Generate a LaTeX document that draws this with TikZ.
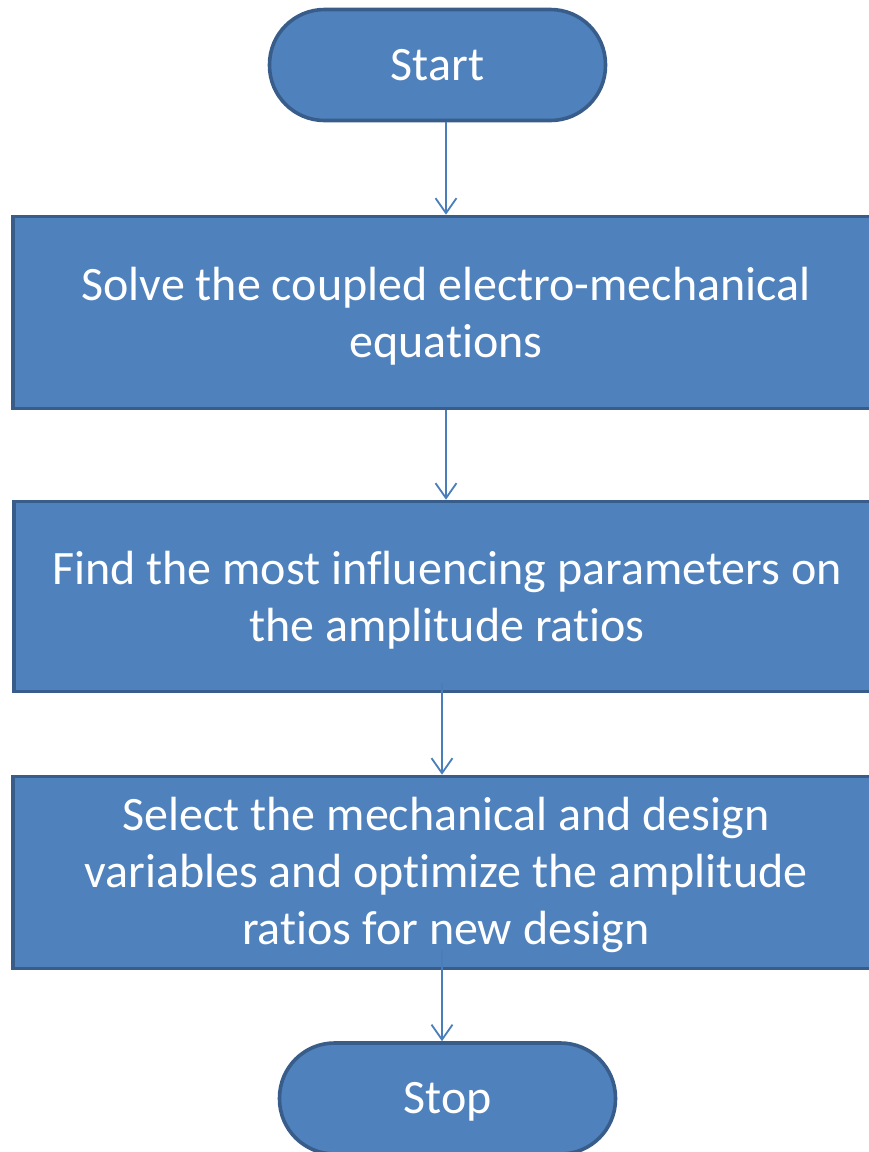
\documentclass[tikz,border=0pt]{standalone}
\usepackage{fontspec}
\setmainfont{Carlito}[Ligatures={NoCommon,NoContextual,NoRequired}]
\usetikzlibrary{arrows.meta}
\definecolor{boxfill}{HTML}{4F81BD}
\definecolor{boxline}{HTML}{385D8A}
\definecolor{arrowcol}{HTML}{4A7EBB}
\newcommand{\lowtxt}[2]{\raisebox{-#1}[\height][\depth]{\begin{tabular}{@{}c@{}}#2\end{tabular}}}
\begin{document}
\begin{tikzpicture}[x=1pt,y=-1pt,
  terminal/.style={draw=boxline, fill=boxfill, line width=3.6pt, rounded corners=55pt,
    minimum width=336pt, minimum height=111pt, inner sep=0pt, text=white,
    font=\fontsize{48}{57}\selectfont},
  process/.style={draw=boxline, fill=boxfill, line width=3.6pt, minimum width=866pt,
    minimum height=192pt, inner sep=0pt, text=white, align=center,
    font=\fontsize{48}{57}\selectfont},
  arr/.style={draw=arrowcol, line width=1.8pt,
    -{Straight Barb[length=15pt,width=21pt,line width=1.8pt]}}]
\useasboundingbox (0,0) rectangle (869,1152);
\node[terminal] (start) at (437.5,65) {\lowtxt{4pt}{Start}};
\node[process] (box1) at (446,312.5) {\lowtxt{5pt}{Solve the coupled electro-mechanical\\equations}};
\node[process, minimum height=190pt] (box2) at (447,596.5) {\lowtxt{5pt}{Find the most influencing parameters on\\the amplitude ratios}};
\node[process] (box3) at (446,872.5) {\lowtxt{4pt}{Select the mechanical and design\\variables and optimize the amplitude\\ratios for new design}};
\node[terminal] (stop) at (447.5,1098.5) {\lowtxt{4pt}{Stop}};
\coordinate (a3s) at (442,683);
\coordinate (a4s) at (442,950);
\draw[arr] (box1.north |- start.south) -- (box1.north);
\draw[arr] (box1.south) -- (box1.south |- box2.north);
\draw[arr] (a3s) -- (a3s |- box3.north);
\draw[arr] (a4s) -- (a4s |- stop.north);
\end{tikzpicture}
\end{document}
